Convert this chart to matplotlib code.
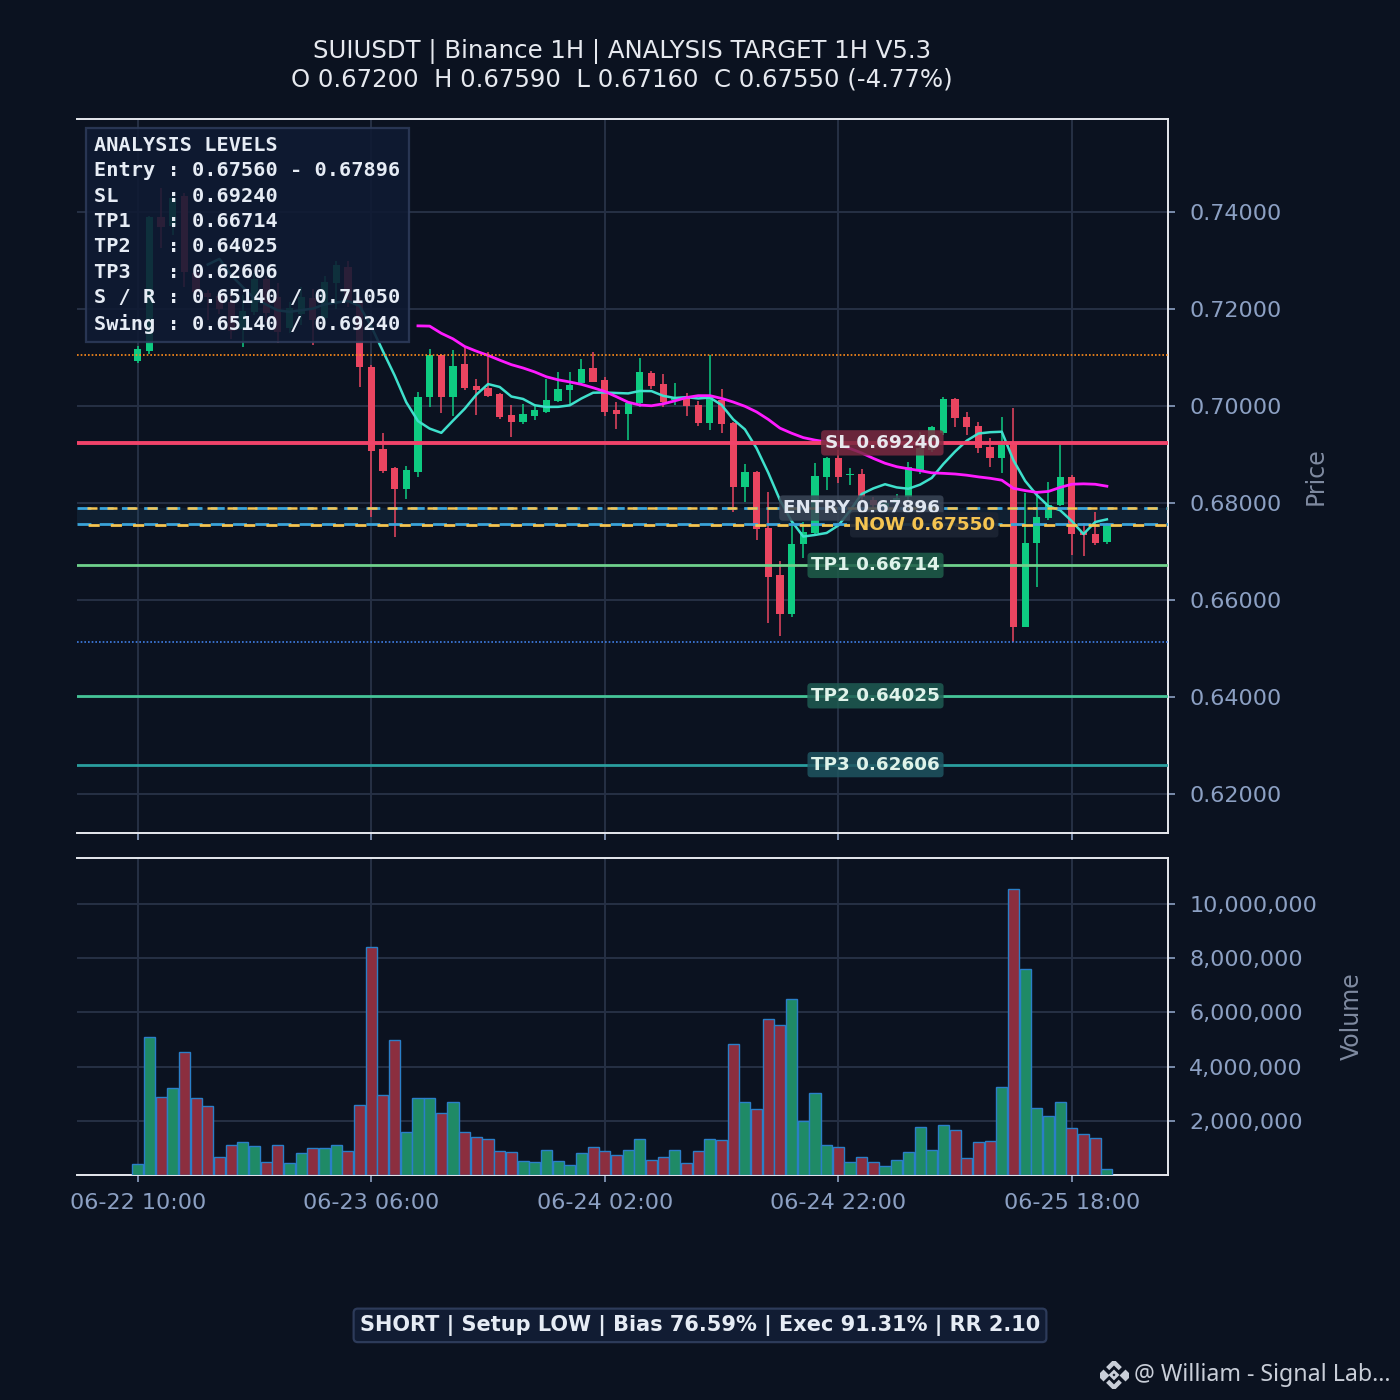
import numpy as np
import pandas as pd
import matplotlib.pyplot as plt
import matplotlib.ticker as ticker
from matplotlib.patches import Polygon

# --- data ---
opens = [0.7093, 0.7113, 0.7390, 0.7371, 0.7433, 0.7275, 0.7234, 0.7226, 0.7214, 0.7158,
         0.7194, 0.7262, 0.7225, 0.7160, 0.7190, 0.7223, 0.7182, 0.7254, 0.7287, 0.7214,
         0.7081, 0.6911, 0.6872, 0.6829, 0.6864, 0.7019, 0.7105, 0.7019, 0.7087, 0.7041,
         0.7037, 0.7025, 0.6981, 0.6967, 0.6979, 0.6988, 0.7010, 0.7033, 0.7047, 0.7078,
         0.7054, 0.6992, 0.6984, 0.7006, 0.7068, 0.7045, 0.7012, 0.7019, 0.7002, 0.6965,
         0.7012, 0.6965, 0.6833, 0.6864, 0.6748, 0.6651, 0.6571, 0.6715, 0.6738, 0.6854,
         0.6893, 0.6858, 0.6860, 0.6806, 0.6792, 0.6800, 0.6812, 0.6868, 0.6909, 0.6944,
         0.7014, 0.6977, 0.6959, 0.6915, 0.6893, 0.6924, 0.6544, 0.6717, 0.6769, 0.6796,
         0.6854, 0.6740, 0.6736, 0.6720]
highs = [0.7124, 0.7392, 0.7450, 0.7435, 0.7440, 0.7292, 0.7240, 0.7238, 0.7229, 0.7228,
         0.7275, 0.7268, 0.7254, 0.7215, 0.7245, 0.7242, 0.7268, 0.7298, 0.7298, 0.7225,
         0.7085, 0.6944, 0.6875, 0.6876, 0.7029, 0.7118, 0.7108, 0.7116, 0.7122, 0.7056,
         0.7111, 0.7027, 0.7002, 0.7004, 0.7000, 0.7056, 0.7070, 0.7070, 0.7097, 0.7111,
         0.7060, 0.7008, 0.7010, 0.7099, 0.7072, 0.7066, 0.7047, 0.7026, 0.7010, 0.7105,
         0.7035, 0.6968, 0.6880, 0.6866, 0.6823, 0.6680, 0.6761, 0.6761, 0.6882, 0.6895,
         0.6909, 0.6872, 0.6870, 0.6812, 0.6806, 0.6818, 0.6884, 0.6946, 0.6959, 0.7019,
         0.7016, 0.6988, 0.6967, 0.6934, 0.6977, 0.6996, 0.6821, 0.6821, 0.6843, 0.6920,
         0.6858, 0.6759, 0.6781, 0.6759]
lows = [0.7089, 0.7108, 0.7326, 0.7353, 0.7245, 0.7228, 0.7177, 0.7190, 0.7138, 0.7122,
        0.7188, 0.7174, 0.7130, 0.7150, 0.7168, 0.7126, 0.7170, 0.7200, 0.7205, 0.7039,
        0.6772, 0.6862, 0.6730, 0.6808, 0.6854, 0.6998, 0.6985, 0.6979, 0.7033, 0.6981,
        0.7019, 0.6973, 0.6936, 0.6963, 0.6972, 0.6985, 0.7008, 0.7005, 0.7043, 0.7049,
        0.6980, 0.6953, 0.6930, 0.6998, 0.7036, 0.6999, 0.7002, 0.6979, 0.6958, 0.6951,
        0.6945, 0.6781, 0.6802, 0.6724, 0.6553, 0.6526, 0.6566, 0.6687, 0.6735, 0.6826,
        0.6842, 0.6837, 0.6805, 0.6785, 0.6785, 0.6795, 0.6806, 0.6860, 0.6905, 0.6940,
        0.6957, 0.6940, 0.6903, 0.6874, 0.6862, 0.6513, 0.6544, 0.6627, 0.6765, 0.6794,
        0.6693, 0.6691, 0.6713, 0.6716]
closes = [0.7118, 0.7390, 0.7369, 0.7429, 0.7276, 0.7236, 0.7224, 0.7200, 0.7155, 0.7196,
          0.7262, 0.7192, 0.7152, 0.7202, 0.7224, 0.7178, 0.7256, 0.7290, 0.7214, 0.7080,
          0.6907, 0.6866, 0.6829, 0.6868, 0.7019, 0.7105, 0.7019, 0.7083, 0.7037, 0.7033,
          0.7021, 0.6977, 0.6967, 0.6984, 0.6992, 0.7012, 0.7035, 0.7043, 0.7076, 0.7050,
          0.6988, 0.6984, 0.7006, 0.7070, 0.7041, 0.7008, 0.7019, 0.7000, 0.6965, 0.7019,
          0.6963, 0.6833, 0.6864, 0.6746, 0.6647, 0.6571, 0.6715, 0.6740, 0.6856, 0.6893,
          0.6854, 0.6860, 0.6812, 0.6796, 0.6800, 0.6810, 0.6874, 0.6913, 0.6957, 0.7014,
          0.6975, 0.6957, 0.6913, 0.6893, 0.6920, 0.6544, 0.6717, 0.6771, 0.6796, 0.6854,
          0.6736, 0.6734, 0.6718, 0.6755]
volumes_m = [0.41, 5.09, 2.89, 3.22, 4.54, 2.85, 2.56, 0.66, 1.12, 1.21,
             1.06, 0.48, 1.10, 0.45, 0.82, 0.99, 0.99, 1.10, 0.88, 2.60,
             8.41, 2.95, 4.98, 1.59, 2.85, 2.85, 2.27, 2.71, 1.57, 1.39,
             1.32, 0.88, 0.84, 0.51, 0.48, 0.91, 0.51, 0.38, 0.80, 1.02,
             0.90, 0.73, 0.91, 1.32, 0.55, 0.66, 0.91, 0.44, 0.90, 1.32,
             1.30, 4.83, 2.71, 2.45, 5.77, 5.52, 6.48, 2.01, 3.04, 1.10,
             1.02, 0.49, 0.66, 0.48, 0.34, 0.55, 0.84, 1.77, 0.91, 1.83,
             1.67, 0.62, 1.21, 1.27, 3.26, 10.56, 7.59, 2.49, 2.16, 2.71,
             1.72, 1.50, 1.35, 0.22]

start_time = "2025-06-22 10:00"

entry_lo, entry_hi = 0.67560, 0.67896
sl = 0.69240
tp1, tp2, tp3 = 0.66714, 0.64025, 0.62606
support, resistance = 0.65140, 0.71050
swing_lo, swing_hi = 0.65140, 0.69240
now_price = 0.67550
pct_change = -4.77
bias, exec_score, rr = 76.59, 91.31, 2.10

# --- style ---
BG = '#0b1220'
GRID = '#263045'
TXT = '#8ca0c3'
UP = '#0ecb81'
DN = '#ea4560'

plt.rcParams['font.family'] = 'DejaVu Sans'

o = np.array(opens)
h = np.array(highs)
l = np.array(lows)
c = np.array(closes)
vol = np.array(volumes_m) * 1e6
x = np.arange(len(c))
times = pd.date_range(start_time, periods=len(c), freq='h')
up = c >= o

ma7 = pd.Series(c).rolling(7).mean()
ma25 = pd.Series(c).rolling(25).mean()

fig = plt.figure(figsize=(7, 7), dpi=200, facecolor=BG)
ax = fig.add_axes([0.055, 0.405, 0.779, 0.51], facecolor=BG)
axv = fig.add_axes([0.055, 0.1607, 0.779, 0.2264], facecolor=BG, sharex=ax)

for a in (ax, axv):
    a.grid(True, color=GRID, lw=0.7, zorder=0)
    a.set_axisbelow(True)
    a.spines['left'].set_visible(False)
    for s in ('top', 'right', 'bottom'):
        a.spines[s].set_color('#e6e8ee')
        a.spines[s].set_linewidth(0.7)
    a.yaxis.tick_right()
    a.yaxis.set_label_position('right')
    a.tick_params(axis='both', colors=TXT, labelsize=8, length=2.6, width=0.6, pad=4)
    a.tick_params(axis='y', left=False, labelleft=False, right=True, labelright=True, pad=5.2)

# candles
cols = np.where(up, UP, DN)
ax.vlines(x, l, h, colors=cols, lw=0.55, zorder=3)
body = np.maximum(np.abs(c - o), 0.0002)
ax.bar(x, body, bottom=np.minimum(o, c), width=0.62, color=cols, zorder=4)

# moving averages
ax.plot(x, ma7, color='#3fe0cc', lw=0.9, zorder=5)
ax.plot(x, ma25, color='#ff1aff', lw=1.0, zorder=5)

# levels
ax.axhspan(entry_lo, entry_hi, color='#2a6f9a', alpha=0.14, lw=0, zorder=1)
ax.axhline(entry_hi, color='#3aa3d9', lw=1.0, ls=(0, (5, 3)), zorder=6)
ax.axhline(entry_lo, color='#3aa3d9', lw=1.0, ls=(0, (5, 3)), zorder=6)
ax.axhline(entry_hi, color='#f5c451', lw=0.9, ls=(4, (4, 4)), zorder=6)
ax.axhline(now_price, color='#f5c451', lw=1.0, ls=(4, (4, 4)), zorder=6)
ax.axhline(sl, color='#f0436a', lw=1.4, zorder=6)
ax.axhline(tp1, color='#6fd18c', lw=1.0, zorder=6)
ax.axhline(tp2, color='#45c497', lw=1.0, zorder=6)
ax.axhline(tp3, color='#2a9e9e', lw=1.0, zorder=6)
ax.axhline(support, color='#3f7fe6', lw=0.6, ls=(0, (1, 1.2)), zorder=6)
ax.axhline(resistance, color='#ff8c1a', lw=0.6, ls=(0, (1, 1.2)), zorder=6)

lab_x = 68.7
labels = [
    (sl, f'SL {sl:.5f}', '#e8e8ee', '#7a2a40'),
    (entry_hi, f'ENTRY {entry_hi:.5f}', '#dfe6f0', '#3a4556'),
    (tp1, f'TP1 {tp1:.5f}', '#dff3ea', '#1f5e4a'),
    (tp2, f'TP2 {tp2:.5f}', '#dff3ea', '#1f5c52'),
    (tp3, f'TP3 {tp3:.5f}', '#dff3ea', '#1f5560'),
]
for yv, s, tc, fc in labels:
    ax.text(lab_x, yv, s, color=tc, fontsize=6.6, fontweight='bold', ha='right', va='center',
            zorder=8, bbox=dict(boxstyle='round,pad=0.2,rounding_size=0.2', fc=fc, ec='none', alpha=0.85))
ax.text(73.4, now_price, f'NOW {now_price:.5f}', color='#f5c451', fontsize=6.6, fontweight='bold',
        ha='right', va='center', zorder=8,
        bbox=dict(boxstyle='round,pad=0.2,rounding_size=0.2', fc='#1c2433', ec='none', alpha=0.9))

# analysis box
box_txt = '\n'.join([
    'ANALYSIS LEVELS',
    f'Entry : {entry_lo:.5f} - {entry_hi:.5f}',
    f'SL    : {sl:.5f}',
    f'TP1   : {tp1:.5f}',
    f'TP2   : {tp2:.5f}',
    f'TP3   : {tp3:.5f}',
    f'S / R : {support:.5f} / {resistance:.5f}',
    f'Swing : {swing_lo:.5f} / {swing_hi:.5f}',
])
ax.text(0.016, 0.976, box_txt, transform=ax.transAxes, family='DejaVu Sans Mono', fontweight='bold',
        fontsize=7.3, color='#e6ecf5', ha='left', va='top', linespacing=1.42, zorder=10,
        bbox=dict(boxstyle='square,pad=0.4', fc='#0f1a33', ec='#2d3b5a', alpha=0.88, lw=0.8))

ax.set_xlim(-5.2, 88.2)
ax.set_ylim(0.61196, 0.75918)
ax.set_yticks(np.arange(0.62, 0.7401, 0.02))
ax.yaxis.set_major_formatter(ticker.FormatStrFormatter('%.5f'))
ax.tick_params(axis='x', labelbottom=False)
ax.set_ylabel('Price', color='#7f8aa0', fontsize=8.5, labelpad=8)

title = ('SUIUSDT | Binance 1H | ANALYSIS TARGET 1H V5.3\n'
         f'O {o[-1]:.5f}  H {h[-1]:.5f}  L {l[-1]:.5f}  C {c[-1]:.5f} ({pct_change:.2f}%)')
ax.set_title(title, color='#e6e9ef', fontsize=8.8, pad=11.6, linespacing=1.2)

# volume
vcols = np.where(up, '#1f8a66', '#8b2e3f')
axv.bar(x, vol, width=0.95, color=vcols, edgecolor='#2a7fc8', lw=0.5, zorder=3)
axv.set_ylim(0, vol.max() * 1.107)
axv.set_yticks([2e6, 4e6, 6e6, 8e6, 10e6])
axv.yaxis.set_major_formatter(ticker.FuncFormatter(lambda v, p: f'{v:,.0f}'))
axv.set_ylabel('Volume', color='#7f8aa0', fontsize=8.5, labelpad=8)
tick_idx = x[::20]
axv.set_xticks(tick_idx)
axv.set_xticklabels([times[i].strftime('%m-%d %H:%M') for i in tick_idx])

# footer
fig.text(0.5, 0.0533, f'SHORT | Setup LOW | Bias {bias:.2f}% | Exec {exec_score:.2f}% | RR {rr:.2f}',
         color='#e6ecf5', fontsize=7.5, fontweight='bold', ha='center', va='center',
         bbox=dict(boxstyle='round,pad=0.3,rounding_size=0.2', fc='#111c33', ec='#2d3b5a', lw=0.8))
fig.text(0.993, 0.0179, '@ William - Signal Lab...', color='#c9ced8', fontsize=8.35,
         family='Noto Sans', ha='right', va='center')

# small exchange logo
lg = fig.add_axes([0.7857, 0.0079, 0.02, 0.02])
lg.set_xlim(-1, 1)
lg.set_ylim(-1, 1)
lg.axis('off')
lc = '#c9ced8'
lg.add_patch(Polygon([[0, 0.25], [0.25, 0], [0, -0.25], [-0.25, 0]], closed=True, fc='none', ec=lc, lw=1.0))
lg.plot([-0.45, 0, 0.45], [0.45, 0.9, 0.45], color=lc, lw=1.6, solid_capstyle='butt')
lg.plot([-0.45, 0, 0.45], [-0.45, -0.9, -0.45], color=lc, lw=1.6, solid_capstyle='butt')
lg.plot([-0.8, 0.8], [0, 0], 'D', color=lc, ms=2.2)

fig.savefig('out.png', dpi=200, facecolor=BG)
